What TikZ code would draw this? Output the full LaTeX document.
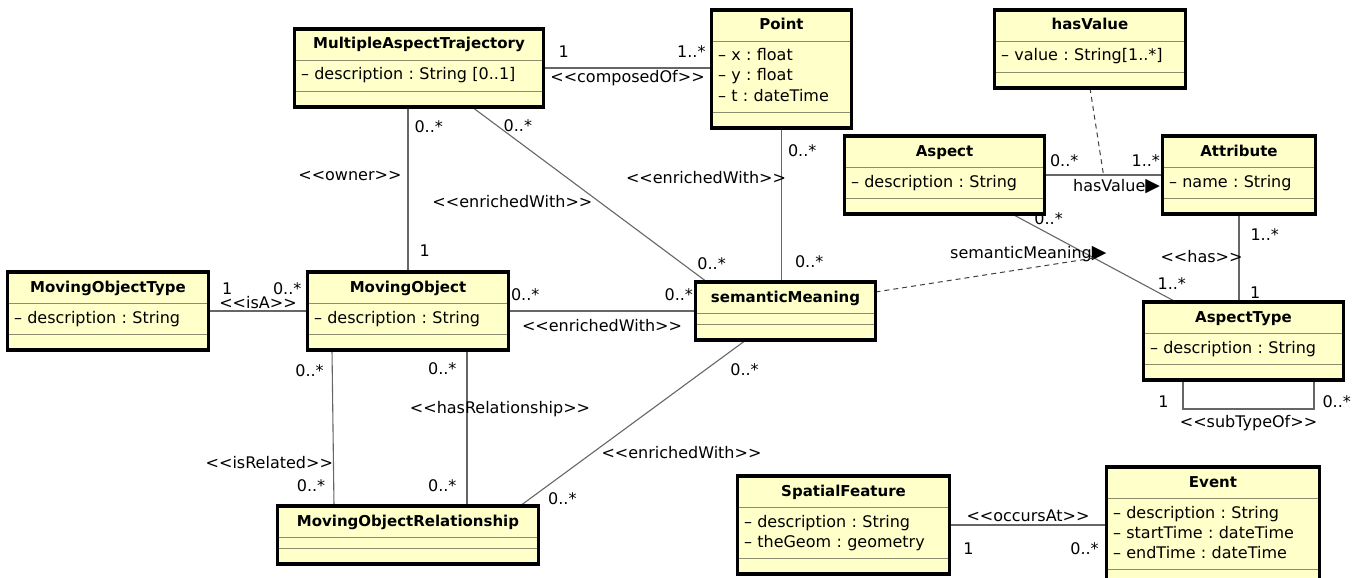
\documentclass[tikz,border=0pt]{standalone}
\usepackage{fontspec}
\setmainfont{DejaVu Sans}
\usetikzlibrary{shapes.multipart}
\definecolor{cClass}{HTML}{FFFFCA}
\definecolor{cSep}{HTML}{8C8C6E}
\frenchspacing
\newcommand\umlfont{\fontsize{16}{20}\selectfont}
\newcommand\ttl[1]{{\fontsize{15}{20}\selectfont\bfseries\strut#1}}
\newcommand\fld[1]{\strut-- #1}
\newcommand\ops{\rule{0pt}{4pt}}
\newcommand\stereo[1]{<\kern0pt<#1>\kern0pt>}
\newcommand\dirmark{{\fontsize{19}{20}\selectfont▶}}
\tikzset{
  umlclass/.style={rectangle split, rectangle split parts=3, draw=cSep, line width=1pt,
                   fill=cClass, anchor=north, align=left, inner xsep=6pt, inner ysep=5pt,
                   font=\umlfont, every text node part/.style={align=center}},
  assoc/.style   ={draw=black!60, line width=1.1pt},
  attach/.style  ={draw=black!75, line width=1pt, dash pattern=on 5pt off 4pt},
  mult/.style    ={font=\umlfont, inner sep=2pt},
  frame/.style   ={draw=black, line width=3.5pt},
}

\begin{document}
\begin{tikzpicture}[x=1pt,y=-1pt]
  \useasboundingbox (0,0) rectangle (1358,578);
  % classes
  \node[umlclass, text width=236pt] (mat) at (419,29) {\ttl{MultipleAspectTrajectory}\nodepart{two}\fld{description : String [0..1]}\nodepart{three}\ops};
  \node[umlclass, text width=127pt] (pt) at (781.5,10) {\ttl{Point}\nodepart{two}\fld{x : float}\\\fld{y : float}\\\fld{t : dateTime}\nodepart{three}\ops};
  \node[umlclass, text width=178pt] (hv) at (1090,10) {\ttl{hasValue}\nodepart{two}\fld{value : String[1..*]}\nodepart{three}\ops};
  \node[umlclass, text width=187pt] (asp) at (944.5,136) {\ttl{Aspect}\nodepart{two}\fld{description : String}\nodepart{three}\ops};
  \node[umlclass, text width=140pt] (attr) at (1239,136) {\ttl{Attribute}\nodepart{two}\fld{name : String}\nodepart{three}\ops};
  \node[umlclass, text width=188pt] (mot) at (108,272) {\ttl{MovingObjectType}\nodepart{two}\fld{description : String}\nodepart{three}\ops};
  \node[umlclass, text width=188pt] (mo) at (408,272) {\ttl{MovingObject}\nodepart{two}\fld{description : String}\nodepart{three}\ops};
  \node[umlclass, text width=167pt] (sm) at (785.5,282) {\ttl{semanticMeaning}\nodepart{two}\nodepart{three}\ops};
  \node[umlclass, text width=187pt] (atype) at (1243.5,302) {\ttl{AspectType}\nodepart{two}\fld{description : String}\nodepart{three}\ops};
  \node[umlclass, text width=248pt] (mor) at (408,506) {\ttl{MovingObjectRelationship}\nodepart{two}\nodepart{three}\ops};
  \node[umlclass, text width=199pt] (sf) at (843.5,476) {\ttl{SpatialFeature}\nodepart{two}\fld{description : String}\\\fld{theGeom : geometry}\nodepart{three}\ops};
  \node[umlclass, text width=200pt] (ev) at (1213,467) {\ttl{Event}\nodepart{two}\fld{description : String}\\\fld{startTime : dateTime}\\\fld{endTime : dateTime}\nodepart{three}\ops};

  % associations
  \draw[assoc] (mat.east) -- (mat.east -| pt.west)
    node[mult, pos=.12, above=8pt] {1}
    node[mult, pos=.88, above=8pt] {1..*}
    node[mult, midway, below=0pt] {\stereo{composedOf}};
  \draw[assoc] (mo.north |- mat.south) -- (mo.north)
    node[mult, pos=.12, right=4pt] {0..*}
    node[mult, pos=.42, left=4pt] {\stereo{owner}}
    node[mult, pos=.87, right=9pt] {1};
  \draw[assoc] ([xshift=53pt]mat.south) -- ([xshift=-78.5pt]sm.north)
    node[mult, pos=.107, anchor=west, xshift=4pt] {0..*}
    node[mult, pos=.54, anchor=east, xshift=-4pt] {\stereo{enrichedWith}}
    node[mult, pos=.893, anchor=west, xshift=13pt] {0..*};
  \draw[assoc] (pt.south) -- (pt.south |- sm.north)
    node[mult, pos=.15, right=4pt] {0..*}
    node[mult, pos=.32, anchor=east, xshift=7pt] {\stereo{enrichedWith}}
    node[mult, pos=.87, right=11pt] {0..*};
  \draw[assoc] (mo.east) -- (mo.east -| sm.west)
    node[mult, pos=0, anchor=south west, yshift=7.5pt] {0..*}
    node[mult, pos=1, anchor=south east, yshift=7.5pt] {0..*}
    node[mult, midway, below=6pt] {\stereo{enrichedWith}};
  \draw[assoc] (mot.east) -- (mot.east -| mo.west)
    node[mult, pos=.19, above=14pt] {1}
    node[mult, pos=.795, above=14pt] {0..*}
    node[mult, midway, above=0pt] {\stereo{isA}};
  \draw[assoc] ([xshift=-76pt]mo.south) -- ([xshift=-74pt]mor.north)
    node[mult, pos=.13, left=6pt] {0..*}
    node[mult, pos=.72, anchor=east, xshift=2pt] {\stereo{isRelated}}
    node[mult, pos=.87, left=6pt] {0..*};
  \draw[assoc] ([xshift=59pt]mo.south) -- ([xshift=59pt]mor.north)
    node[mult, pos=.12, left=8pt] {0..*}
    node[mult, pos=.38, xshift=33pt] {\stereo{hasRelationship}}
    node[mult, pos=.87, left=8pt] {0..*};
  \draw[assoc] ([xshift=-39.5pt]sm.south) -- ([xshift=112pt]mor.north)
    node[mult, pos=.178, anchor=west, xshift=22pt] {0..*}
    node[mult, pos=.675, anchor=west, xshift=5.5pt] {\stereo{enrichedWith}}
    node[mult, pos=.953, anchor=west, xshift=15pt] {0..*};
  \draw[assoc] (asp.east) -- coordinate[pos=.5] (hvmid) (attr.west)
    node[mult, pos=0, anchor=south west, xshift=3pt, yshift=6pt] {0..*}
    node[mult, pos=1, anchor=south east, yshift=6pt] {1..*}
    node[mult, pos=1, anchor=north east, yshift=-2pt] {hasValue\dirmark};
  \draw[assoc] ([xshift=67.5pt]asp.south) -- coordinate[pos=.5] (smid) ([xshift=-67.5pt]atype.north)
    node[mult, pos=.054, anchor=west, xshift=11pt] {0..*}
    node[mult, pos=.457, anchor=east, xshift=22pt] {semanticMeaning\dirmark}
    node[mult, pos=.793, anchor=west, xshift=13pt] {1..*};
  \draw[assoc] (attr.south) -- (attr.south |- atype.north)
    node[mult, pos=.23, right=9pt] {1..*}
    node[mult, pos=.48, anchor=east, xshift=6pt] {\stereo{has}}
    node[mult, pos=.89, right=8.5pt] {1};
  \draw[assoc] ([xshift=-60.5pt]atype.south) -- ++(0,29)
    node[mult, pos=.76, left=12pt] {1}
    -| ([xshift=70.5pt]atype.south)
    node[mult, pos=.25, below=4pt] {\stereo{subTypeOf}}
    node[mult, pos=.62, right=6pt] {0..*};
  \draw[assoc] (sf.east) -- (sf.east -| ev.west)
    node[mult, midway, above=1pt] {\stereo{occursAt}}
    node[mult, pos=.12, below=15pt] {1}
    node[mult, pos=.86, below=15pt] {0..*};

  % association classes
  \draw[attach] (hv.south) -- (hvmid);
  \draw[attach] ([yshift=-10pt]sm.north east) -- (smid);

  % class frames
  \foreach \c in {mat,pt,hv,asp,attr,mot,mo,sm,atype,mor,sf,ev}
    \draw[frame] (\c.south west) rectangle (\c.north east);
\end{tikzpicture}
\end{document}
